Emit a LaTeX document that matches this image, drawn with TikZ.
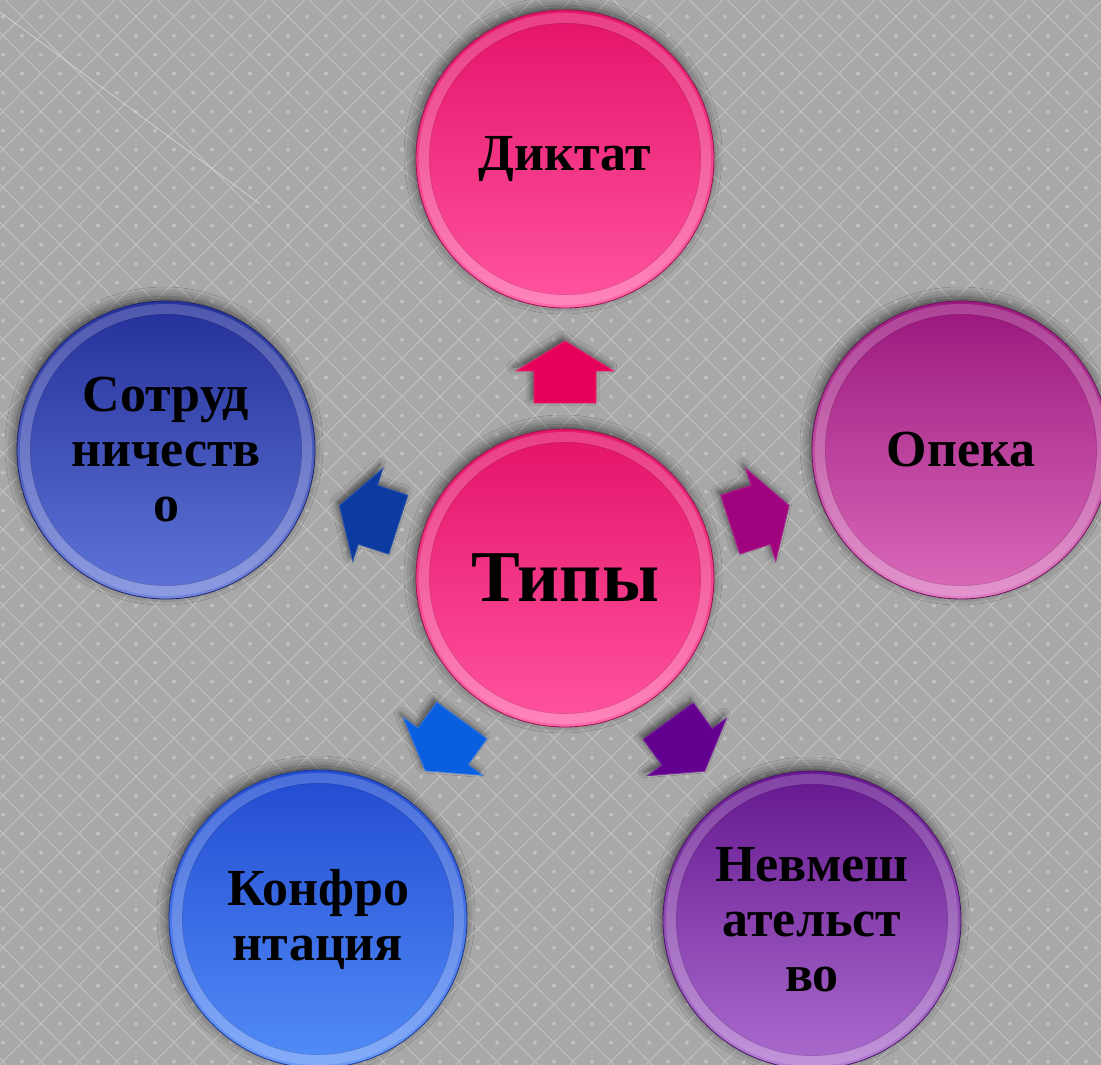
\documentclass[tikz,border=0pt]{standalone}
\usepackage{fontspec}
\setmainfont{Liberation Serif}
\usetikzlibrary{shadows.blur,calc}
\definecolor{bg}{HTML}{A8A8A8}
\definecolor{gridc}{HTML}{C0C0C0}
\definecolor{pkT}{HTML}{E5166B}
\definecolor{pkB}{HTML}{FF519E}
\definecolor{opT}{HTML}{9C1A80}
\definecolor{opB}{HTML}{D968B8}
\definecolor{nvT}{HTML}{681B92}
\definecolor{nvB}{HTML}{A868CB}
\definecolor{kfT}{HTML}{244ED2}
\definecolor{kfB}{HTML}{508AF7}
\definecolor{stT}{HTML}{27339C}
\definecolor{stB}{HTML}{5C72D6}
\definecolor{arD}{HTML}{E6005A}
\definecolor{arO}{HTML}{A0037E}
\definecolor{arN}{HTML}{640090}
\definecolor{arK}{HTML}{0A5EE0}
\definecolor{arS}{HTML}{0B3AA0}
\tikzset{
  disc/.style={circle, minimum size=298pt, inner sep=0pt, align=center,
    font=\bfseries\fontsize{52}{55}\selectfont, text=black,
    blur shadow={shadow xshift=-2pt, shadow yshift=4pt, shadow blur radius=10pt, shadow opacity=60}},
  discfill/.style 2 args={top color=#1, bottom color=#2!85!white, draw=#1!70!black, line width=.8pt,
    path picture={
      \draw[white, opacity=.18, line width=10pt] (path picture bounding box.center) circle (141pt);
      \shade[top color=#1, bottom color=#2] (path picture bounding box.center) circle (135pt);
      \draw[#1!60!black, opacity=.25, line width=.7pt] (path picture bounding box.center) circle (135.5pt);
    }},
  blockarrow/.style={fill=#1, draw=#1!85!white, line width=.8pt, line join=miter,
    blur shadow={shadow xshift=-3pt, shadow yshift=4pt, shadow blur radius=6pt, shadow opacity=55}},
}
\begin{document}
\begin{tikzpicture}[x=1pt,y=-1pt]
\useasboundingbox (0,0) rectangle (1101,1065);
% background
\fill[bg] (0,0) rectangle (1101,1065);
\begin{scope}
  \clip (0,0) rectangle (1101,1065);
  \foreach \k in {-30,...,59} {
    \draw[gridc, line width=1.1pt] ({5.3+38*\k},0) -- ({5.3+38*\k+1065},1065);
    \draw[gridc, line width=1.1pt] ({0.7+38*\k},0) -- ({0.7+38*\k-1065},1065);
  }
  \foreach \i in {-1,...,28} {
    \foreach \j in {0,...,28} {
      \fill[gridc] ({41+38*\i},{16.7+38*\j}) circle (2pt);
      \fill[gridc] ({22+38*\i},{35.7+38*\j}) circle (2pt);
    }
  }
  \draw[white, opacity=.45, line width=.8pt] (0,12) -- (260,204);
\end{scope}

% circles
\node[disc, discfill={pkT}{pkB}, font=\bfseries\fontsize{73}{80}\selectfont] (T) at (565,578) {Типы};
\node[disc, discfill={pkT}{pkB}] (D) at (565,159) {Диктат};
\node[disc, discfill={opT}{opB}] (O) at (961,450) {Опека};
\node[disc, discfill={nvT}{nvB}] (N) at (812,920) {Невмеш\\ательст\\во};
\node[disc, discfill={kfT}{kfB}] (K) at (318,919) {Конфро\\нтация};
\node[disc, discfill={stT}{stB}] (S) at (166,450) {Сотруд\\ничеств\\о};

% block arrows from centre towards each circle
\foreach \tgt/\ang/\col in {D/0/arD, O/-72/arO, N/-144/arN, K/144/arK, S/72/arS} {
  \begin{scope}[shift={($(T.center)!0.4916!(\tgt.center)$)}, rotate=\ang]
    \path[blockarrow=\col] (0,-31) -- (49,-1) -- (31,-1) -- (31,31) -- (-31,31) -- (-31,-1) -- (-49,-1) -- cycle;
  \end{scope}
}
\end{tikzpicture}
\end{document}
